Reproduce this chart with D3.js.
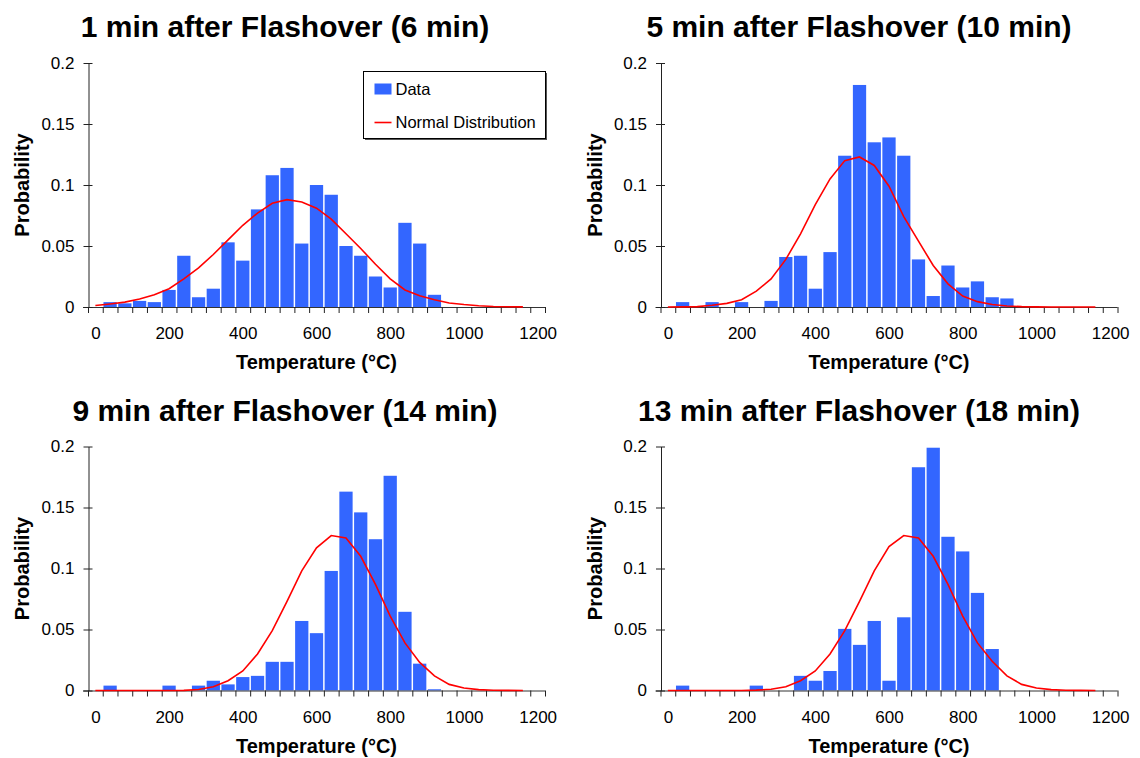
<!DOCTYPE html>
<html>
<head>
<meta charset="utf-8">
<script src="https://cdn.jsdelivr.net/npm/d3@7"></script>
<style>
  body { margin: 0; background: #fff; }
  svg { display: block; font-family: Arial, "Liberation Sans", sans-serif; }
</style>
</head>
<body>
<svg id="chart" width="1140" height="758"></svg>
<script>
// temperature bins (40 degC wide), 0 .. 1200
var bins = d3.range(0, 1201, 40)
var lineBins = d3.range(0, 1161, 40)
var xTickLabels = [0, 200, 400, 600, 800, 1000, 1200]
var yTickLabels = [0, 0.05, 0.1, 0.15, 0.2]

var titles = [
  '1 min after Flashover (6 min)',
  '5 min after Flashover (10 min)',
  '9 min after Flashover (14 min)',
  '13 min after Flashover (18 min)'
]

// bar heights per bin (probability)
var data6 = [0, 0.004, 0.003, 0.005, 0.004, 0.014, 0.042, 0.008, 0.015, 0.053, 0.038, 0.080,
  0.108, 0.114, 0.052, 0.100, 0.092, 0.050, 0.042, 0.025, 0.016, 0.069, 0.052, 0.010,
  0, 0, 0, 0, 0, 0, 0]
var data10 = [0, 0.004, 0, 0.004, 0, 0.004, 0, 0.005, 0.041, 0.042, 0.015, 0.045,
  0.124, 0.182, 0.135, 0.139, 0.124, 0.039, 0.009, 0.034, 0.016, 0.021, 0.008, 0.007,
  0, 0, 0, 0, 0, 0, 0]
var data14 = [0, 0.004, 0, 0, 0, 0.004, 0, 0.004, 0.008, 0.005, 0.011, 0.012,
  0.0235, 0.0235, 0.057, 0.047, 0.098, 0.163, 0.146, 0.124, 0.176, 0.0645, 0.022, 0.001,
  0, 0, 0, 0, 0, 0, 0]
var data18 = [0, 0.004, 0, 0, 0, 0, 0.004, 0, 0, 0.012, 0.008, 0.016,
  0.0505, 0.0374, 0.057, 0.008, 0.060, 0.183, 0.199, 0.126, 0.114, 0.080, 0.034, 0,
  0, 0, 0, 0, 0, 0, 0]

// fitted normal distribution, read per bin
var normal6 = [0.0012, 0.0025, 0.004, 0.0066, 0.010, 0.015, 0.023, 0.032, 0.043, 0.055,
  0.067, 0.077, 0.085, 0.088, 0.086, 0.081, 0.072, 0.060, 0.048, 0.035,
  0.023, 0.014, 0.0093, 0.006, 0.0033, 0.002, 0.001, 0.0004, 0.0002, 0.0001]
var normal10 = [0, 0.0001, 0.0003, 0.0014, 0.003, 0.006, 0.013, 0.023, 0.039, 0.060,
  0.084, 0.105, 0.120, 0.123, 0.116, 0.099, 0.074, 0.054, 0.034, 0.019,
  0.009, 0.0044, 0.002, 0.0008, 0.0003, 0.0001, 0, 0, 0, 0]
var normal14 = [0, 0, 0, 0, 0, 0, 0.0001, 0.0008, 0.003, 0.008,
  0.016, 0.030, 0.049, 0.073, 0.098, 0.117, 0.127, 0.125, 0.110, 0.087,
  0.061, 0.039, 0.023, 0.012, 0.005, 0.002, 0.0007, 0.0002, 0.0001, 0]
var normal18 = [0, 0, 0, 0, 0, 0, 0.0003, 0.001, 0.003, 0.008,
  0.016, 0.030, 0.049, 0.073, 0.098, 0.118, 0.127, 0.125, 0.110, 0.087,
  0.061, 0.039, 0.024, 0.012, 0.005, 0.002, 0.0007, 0.0002, 0.0001, 0]

var barSets = [data6, data10, data14, data18]
var lineSets = [normal6, normal10, normal14, normal18]

var barColor = '#3366ff'
var lineColor = '#ff0000'
var fontStack = 'Arial, "Liberation Sans", sans-serif'

var svg = d3.select('#chart')

// plot box of the first panel, others are offset from it
var plotW = 457
var plotH = 244
var origins = [
  { x: 88, y: 63, titleX: 285 },
  { x: 660.5, y: 63, titleX: 859 },
  { x: 88, y: 446.5, titleX: 285 },
  { x: 660.5, y: 446.5, titleX: 859 }
]

var xScale = d3.scaleLinear().domain([-20, 1220]).range([0, plotW])
var yScale = d3.scaleLinear().domain([0, 0.2]).range([plotH, 0])
var edges = d3.range(-20, 1221, 40)

origins.forEach(function(o, k) {
  var g = svg.append('g').attr('transform', 'translate(' + o.x + ',' + o.y + ')')

  svg.append('text')
    .attr('x', o.titleX)
    .attr('y', o.y - 26)
    .attr('text-anchor', 'middle')
    .style('font-size', '30px')
    .style('font-weight', 'bold')
    .text(titles[k])

  // bars
  g.selectAll('rect.bar')
    .data(bins.map(function(b, i) { return { t: b, v: barSets[k][i] } }).filter(function(d) { return d.v > 0 }))
    .enter().append('rect')
    .attr('class', 'bar')
    .attr('x', function(d) { return xScale(d.t - 18) })
    .attr('width', xScale(36) - xScale(0))
    .attr('y', function(d) { return yScale(d.v) })
    .attr('height', function(d) { return plotH - yScale(d.v) })
    .attr('fill', barColor)

  // x axis: ticks at bin edges, labels at bin centres
  var xEdgeAxis = d3.axisBottom(xScale).tickValues(edges).tickSize(6).tickSizeOuter(0).tickFormat('')
  var gx = g.append('g').attr('transform', 'translate(0,' + plotH + ')').call(xEdgeAxis)
  gx.select('.domain').attr('d', 'M-5,0.5H' + plotW).attr('stroke', '#333')
  gx.selectAll('.tick line').attr('stroke', '#222')

  var xLabelAxis = d3.axisBottom(xScale).tickValues(xTickLabels).tickSize(0).tickPadding(20).tickFormat(function(d) { return d })
  var gxl = g.append('g').attr('transform', 'translate(0,' + plotH + ')').call(xLabelAxis)
  gxl.select('.domain').remove()
  gxl.selectAll('text').style('font-size', '17px').style('font-family', fontStack).attr('fill', '#000')

  // y axis
  var yAxis = d3.axisLeft(yScale).tickValues(yTickLabels).tickSize(4).tickSizeOuter(0).tickPadding(10)
    .tickFormat(function(d) { return d })
  var gy = g.append('g').attr('transform', 'translate(0.5,0)').call(yAxis)
  gy.select('.domain').attr('stroke', '#222')
  gy.selectAll('.tick line').attr('x2', -5).attr('x1', 4).attr('stroke', '#222')
  gy.selectAll('text').style('font-size', '17px').style('font-family', fontStack).attr('fill', '#000')

  // normal curve
  var line = d3.line()
    .x(function(d, i) { return xScale(lineBins[i]) })
    .y(function(d) { return yScale(d) })
  g.append('path')
    .datum(lineSets[k])
    .attr('d', line)
    .attr('fill', 'none')
    .attr('stroke', lineColor)
    .attr('stroke-width', 1.6)

  // axis titles
  g.append('text')
    .attr('x', plotW / 2)
    .attr('y', plotH + 62)
    .attr('text-anchor', 'middle')
    .style('font-size', '20px')
    .style('font-weight', 'bold')
    .text('Temperature (°C)')

  g.append('text')
    .attr('transform', 'translate(-59,' + plotH / 2 + ') rotate(-90)')
    .attr('text-anchor', 'middle')
    .style('font-size', '20px')
    .style('font-weight', 'bold')
    .text('Probability')
})

// legend (first panel only)
var lg = svg.append('g').attr('transform', 'translate(363.5,71.5)')
lg.append('rect').attr('x', 1.5).attr('y', 1.5).attr('width', 182).attr('height', 67).attr('fill', '#555')
lg.append('rect').attr('width', 182).attr('height', 67).attr('fill', '#fff').attr('stroke', '#000')
lg.append('rect').attr('x', 11).attr('y', 12).attr('width', 17).attr('height', 11).attr('fill', barColor)
lg.append('text').attr('x', 32).attr('y', 23.5).style('font-size', '16.5px').text('Data')
lg.append('line').attr('x1', 11).attr('x2', 28).attr('y1', 51).attr('y2', 51).attr('stroke', lineColor).attr('stroke-width', 1.6)
lg.append('text').attr('x', 32).attr('y', 56.5).style('font-size', '16.5px').text('Normal Distribution')
</script>
</body>
</html>
